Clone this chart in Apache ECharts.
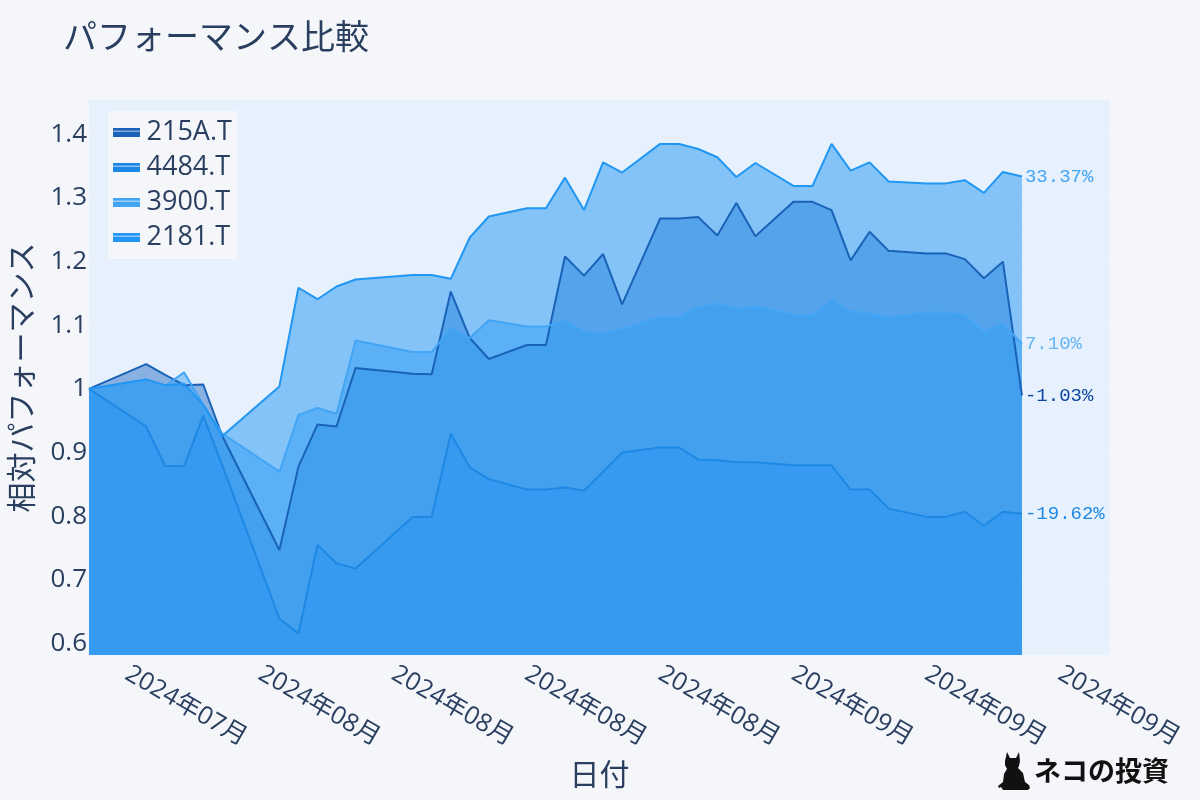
<!DOCTYPE html>
<html>
<head>
<meta charset="utf-8">
<script src="https://cdn.jsdelivr.net/npm/echarts@6/dist/echarts.min.js"></script>
<style>
  html, body { margin: 0; padding: 0; background: #f4f6fa; }
  #chart { width: 1200px; height: 800px; }
</style>
</head>
<body>
<div id="chart"></div>
<script>
// ---- data ----
const dates = [
  '2024-07-26','2024-07-29','2024-07-30','2024-07-31','2024-08-01','2024-08-02',
  '2024-08-05','2024-08-06','2024-08-07','2024-08-08','2024-08-09',
  '2024-08-12','2024-08-13','2024-08-14','2024-08-15','2024-08-16',
  '2024-08-18','2024-08-19','2024-08-20','2024-08-21','2024-08-22','2024-08-23',
  '2024-08-25','2024-08-26','2024-08-27','2024-08-28','2024-08-29','2024-08-30',
  '2024-09-01','2024-09-02','2024-09-03','2024-09-04','2024-09-05','2024-09-06',
  '2024-09-08','2024-09-09','2024-09-10','2024-09-11','2024-09-12','2024-09-13'
];
const seriesNames = ['215A.T', '4484.T', '3900.T', '2181.T'];
const s215A = [1.000, 1.039, 1.022, 1.006, 1.007, 0.926,
  0.747, 0.878, 0.944, 0.941, 1.033,
  1.024, 1.023, 1.153, 1.080, 1.047,
  1.069, 1.069, 1.208, 1.178, 1.212, 1.133,
  1.268, 1.268, 1.270, 1.241, 1.292, 1.240,
  1.294, 1.294, 1.281, 1.202, 1.247, 1.217,
  1.213, 1.213, 1.204, 1.174, 1.200, 0.9897];
const s4484 = [1.000, 0.941, 0.879, 0.879, 0.958, 0.880,
  0.639, 0.616, 0.755, 0.726, 0.718,
  0.799, 0.799, 0.930, 0.877, 0.858,
  0.842, 0.842, 0.845, 0.840, 0.870, 0.900,
  0.908, 0.908, 0.889, 0.888, 0.885, 0.885,
  0.880, 0.880, 0.880, 0.842, 0.842, 0.812,
  0.799, 0.799, 0.807, 0.785, 0.807, 0.8038];
const s3900 = [1.000, 1.015, 1.005, 1.026, 0.975, 0.930,
  0.870, 0.959, 0.970, 0.961, 1.076,
  1.058, 1.058, 1.095, 1.080, 1.108,
  1.098, 1.098, 1.107, 1.089, 1.087, 1.093,
  1.113, 1.113, 1.128, 1.134, 1.125, 1.130,
  1.116, 1.116, 1.139, 1.122, 1.119, 1.112,
  1.120, 1.120, 1.115, 1.089, 1.102, 1.0710];
const s2181 = [1.000, 1.015, 1.006, 1.008, 0.975, 0.926,
  1.004, 1.159, 1.141, 1.161, 1.172,
  1.179, 1.179, 1.173, 1.238, 1.271,
  1.284, 1.284, 1.332, 1.281, 1.356, 1.340,
  1.385, 1.385, 1.377, 1.364, 1.333, 1.355,
  1.319, 1.319, 1.385, 1.343, 1.356, 1.326,
  1.323, 1.323, 1.328, 1.308, 1.341, 1.3337];
const xTickDates = ['2024-07-28','2024-08-04','2024-08-11','2024-08-18',
  '2024-08-25','2024-09-01','2024-09-08','2024-09-15'];
const yTicks = [0.6, 0.7, 0.8, 0.9, 1, 1.1, 1.2, 1.3, 1.4];

// ---- styles ----
const lineColors = ['#1a62b8', '#1e88e5', '#42a5f5', '#2196f3'];
const fillColors = ['#2a6fc4', '#1e88e5', '#42a5f5', '#2196f3'];
const labelColors = ['#0d47a1', '#1e88e5', '#64b5f6', '#42a5f5'];
const FONT = '"Open Sans", "Noto Sans CJK JP", sans-serif';
const TXT = '#2a3f5f';

const parse = s => echarts.number.parseDate(s).getTime();
const allSeries = [s215A, s4484, s3900, s2181];
const xMin = parse(dates[0]);
const xMax = parse('2024-09-17') + 15 * 3600 * 1000;
const xTicks = xTickDates.map(parse);

const chart = echarts.init(document.getElementById('chart'), null, { renderer: 'canvas' });
const option = {
  animation: false,
  backgroundColor: '#f4f6fa',
  textStyle: { fontFamily: FONT },
  title: {
    text: 'パフォーマンス比較',
    left: 58, top: 17,
    textStyle: { fontFamily: FONT, fontSize: 34, fontWeight: 'normal', color: TXT }
  },
  legend: {
    orient: 'vertical',
    left: 108, top: 111,
    backgroundColor: '#f4f6fa',
    padding: [8, 6, 8, 5],
    itemGap: 8,
    itemWidth: 30, itemHeight: 9,
    icon: 'path://M0,0H30V3H0Z M0,4H30V10H0Z',
    textStyle: { fontFamily: FONT, fontSize: 27, color: TXT },
    data: seriesNames
  },
  grid: {
    left: 88, right: 90, top: 100, bottom: 145,
    show: true, backgroundColor: '#e6f1fd', borderWidth: 0
  },
  xAxis: {
    type: 'value',
    min: xMin, max: xMax,
    name: '日付', nameLocation: 'middle', nameGap: 106,
    nameTextStyle: { fontFamily: FONT, fontSize: 30, color: TXT },
    axisLine: { show: false },
    axisTick: { show: false, customValues: xTicks },
    splitLine: { show: true, lineStyle: { color: '#ebf4fe', width: 1 } },
    axisLabel: {
      customValues: xTicks,
      rotate: -30, margin: 17,
      fontFamily: FONT, fontSize: 25, color: TXT,
      formatter: v => {
        const d = new Date(v);
        return d.getFullYear() + '年' + String(d.getMonth() + 1).padStart(2, '0') + '月';
      }
    }
  },
  yAxis: {
    type: 'value',
    min: 0.582, max: 1.454,
    name: '相対パフォーマンス', nameLocation: 'middle', nameGap: 51, nameRotate: 90,
    nameTextStyle: { fontFamily: FONT, fontSize: 30, color: TXT },
    axisLine: { show: false },
    axisTick: { show: false, customValues: yTicks },
    splitLine: { show: true, lineStyle: { color: '#ebf4fe', width: 1 } },
    axisLabel: {
      customValues: yTicks, margin: 2,
      fontFamily: FONT, fontSize: 26, color: TXT,
      formatter: v => String(v)
    }
  },
  series: seriesNames.map((name, i) => ({
    name: name,
    type: 'line',
    symbol: 'none',
    data: dates.map((d, j) => [parse(d), allSeries[i][j]]),
    color: lineColors[i],
    lineStyle: { width: 2, color: lineColors[i] },
    areaStyle: { origin: 'start', color: fillColors[i], opacity: 0.5 },
    endLabel: {
      show: true, distance: 3,
      fontFamily: '"Liberation Mono", "DejaVu Sans Mono", monospace',
      fontSize: 19, color: labelColors[i],
      formatter: p => ((p.value[1] - 1) * 100).toFixed(2) + '%'
    }
  })),
  graphic: [
    {
      type: 'polygon',
      x: 998, y: 752,
      shape: {
        points: [[9,0],[12,6],[18,6],[21,0],[22,9],[21,14],[20,16],[25,21],[27,30],
                 [31,33],[32,36],[30,38],[5,38],[3,35],[1,36],[0,34],[5,30],[6,22],
                 [9,17],[7,13],[7,9]]
      },
      style: { fill: '#111111' }
    },
    {
      type: 'text',
      x: 1034, y: 757,
      style: {
        text: 'ネコの投資',
        font: 'bold 27px "Noto Sans CJK JP", sans-serif',
        fill: '#111111'
      }
    }
  ]
};
chart.setOption(option);
</script>
</body>
</html>
